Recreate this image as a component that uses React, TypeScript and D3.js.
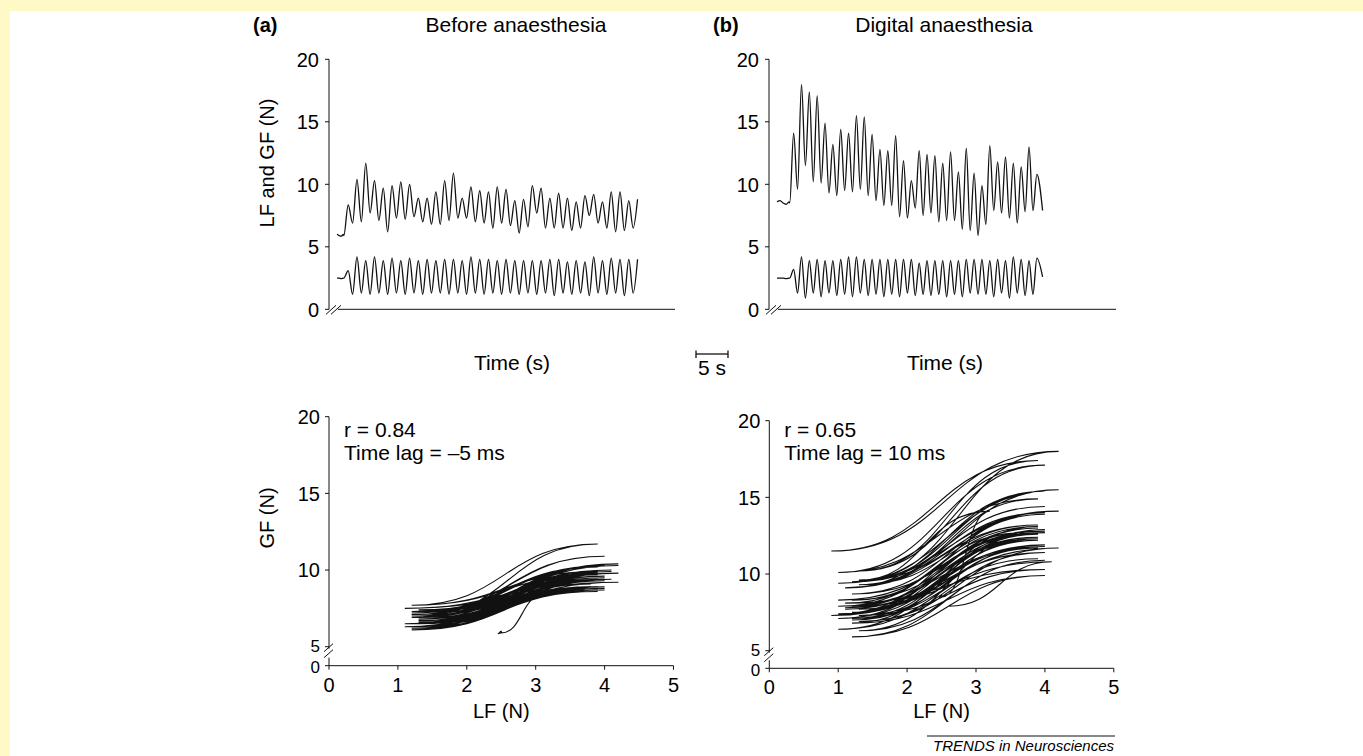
import React from "react";
import * as d3 from "d3";

const FONT = "'Liberation Sans', Arial, Helvetica, sans-serif";

// tick labels
const forceTicks = [0, 5, 10, 15, 20];
const loopYTicks = [10, 15, 20];
const lfTicks = [0, 1, 2, 3, 4, 5];

// (a) before anaesthesia -- values read per cycle (N)
const lfBaseA = [2.5, 2.5, 2.45, 2.5];
const gfBaseA = [6.0, 5.9, 5.85, 6.0];
const lfTroughsA = [2.5, 1.2, 1.3, 1.2, 1.3, 1.2, 1.3, 1.2, 1.3, 1.2, 1.3, 1.3, 1.2, 1.3, 1.2, 1.3, 1.2,
  1.3, 1.2, 1.3, 1.2, 1.3, 1.2, 1.3, 1.1, 1.3, 1.2, 1.3, 1.1, 1.3, 1.2, 1.3, 1.1, 1.3];
const lfPeaksA = [3.1, 4.2, 3.9, 4.2, 3.9, 4.1, 3.9, 4.1, 3.9, 4.0, 3.9, 4.0, 4.0, 3.9, 4.2, 4.0, 4.0,
  3.9, 4.0, 3.9, 3.9, 3.9, 3.9, 4.0, 4.0, 3.8, 3.9, 3.8, 4.2, 3.9, 4.1, 4.0, 4.0, 4.0];
const gfTroughsA = [5.9, 6.9, 7.0, 7.7, 7.1, 6.2, 7.3, 7.2, 7.4, 7.0, 6.8, 6.8, 7.1, 7.3, 7.3, 7.0, 6.9,
  6.5, 6.9, 6.7, 6.1, 6.6, 7.7, 6.5, 6.5, 6.5, 6.3, 6.5, 7.5, 6.9, 6.5, 6.2, 6.3, 6.5];
const gfPeaksA = [8.35, 10.4, 11.7, 10.3, 9.7, 9.9, 10.2, 10.0, 8.9, 8.9, 9.4, 10.3, 10.9, 8.9, 9.8, 9.5,
  9.4, 9.8, 9.6, 8.7, 8.8, 9.9, 9.7, 8.9, 9.3, 8.9, 8.6, 9.1, 9.2, 8.6, 9.4, 9.4, 8.7, 8.8];

// (b) digital anaesthesia
const lfBaseB = [2.5, 2.5, 2.5, 2.45, 2.5];
const gfBaseB = [8.6, 8.7, 8.5, 8.4, 8.6];
const lfTroughsB = [2.5, 1.3, 0.9, 1.3, 1.0, 1.3, 1.1, 1.2, 1.0, 1.3, 1.1, 1.2, 1.0, 1.2, 1.0, 1.3,
  1.1, 1.2, 1.1, 1.2, 1.0, 1.2, 1.0, 1.3, 1.2, 1.2, 1.0, 1.3, 0.9, 1.3, 1.1, 1.2];
const lfPeaksB = [3.2, 4.2, 3.9, 4.0, 3.9, 3.9, 4.0, 4.2, 4.2, 4.0, 4.0, 4.0, 4.0, 4.0, 4.0, 4.0,
  3.7, 3.9, 3.9, 3.9, 3.9, 3.9, 4.0, 4.0, 4.0, 3.9, 4.0, 3.9, 4.2, 4.0, 3.9, 4.1];
const gfTroughsB = [8.5, 9.6, 11.5, 10.2, 10.1, 9.3, 9.1, 9.5, 9.4, 9.6, 9.1, 8.7, 8.3, 8.3, 7.4, 7.3,
  8.1, 7.5, 7.7, 7.0, 7.1, 7.1, 6.4, 6.3, 5.9, 6.8, 7.9, 7.7, 7.3, 6.9, 7.8, 7.9];
const gfPeaksB = [14.1, 18.0, 17.4, 17.1, 14.9, 13.2, 14.4, 14.1, 15.5, 15.4, 14.0, 12.8, 12.7, 13.9,
  11.9, 10.3, 12.7, 12.4, 12.3, 11.7, 12.6, 11.0, 12.9, 10.9, 9.9, 13.1, 11.8, 12.2, 11.7, 11.4, 13.0, 10.8];
const lfEndB = 2.6;
const gfEndB = 7.9;

type Pt = [number, number];

interface Trial {
  lfBase: number[]; gfBase: number[];
  lfTroughs: number[]; lfPeaks: number[];
  gfTroughs: number[]; gfPeaks: number[];
  lfEnd?: number; gfEnd?: number;
  baseDur: number; firstPeak: number; period: number; dur: number;
}

const trialA: Trial = {
  lfBase: lfBaseA, gfBase: gfBaseA, lfTroughs: lfTroughsA, lfPeaks: lfPeaksA,
  gfTroughs: gfTroughsA, gfPeaks: gfPeaksA, baseDur: 1.0, firstPeak: 1.75, period: 1.37, dur: 47,
};
const trialB: Trial = {
  lfBase: lfBaseB, gfBase: gfBaseB, lfTroughs: lfTroughsB, lfPeaks: lfPeaksB,
  gfTroughs: gfTroughsB, gfPeaks: gfPeaksB, lfEnd: lfEndB, gfEnd: gfEndB,
  baseDur: 1.9, firstPeak: 2.6, period: 1.226, dur: 41.5,
};

// time trace: (t, value) for one signal
function trace(t: Trial, base: number[], troughs: number[], peaks: number[], end?: number): Pt[] {
  const pts: Pt[] = base.map((v, i) => [(i / (base.length - 1)) * t.baseDur, v] as Pt);
  peaks.forEach((p, i) => {
    const tp = t.firstPeak + i * t.period;
    pts.push([tp - t.period / 2, troughs[i]]);
    pts.push([tp, p]);
  });
  if (end != null) pts.push([t.dur, end]);
  return pts;
}

// LF/GF pairs for the loop plot
function loops(t: Trial): Pt[] {
  const pts: Pt[] = t.lfBase.map((v, i) => [v, t.gfBase[i]] as Pt);
  t.lfPeaks.forEach((p, i) => {
    pts.push([t.lfTroughs[i], t.gfTroughs[i]]);
    pts.push([p, t.gfPeaks[i]]);
  });
  if (t.lfEnd != null && t.gfEnd != null) pts.push([t.lfEnd, t.gfEnd]);
  return pts;
}

const ink = "#111";

function TracePanel(props: {
  axisX: number; axisEnd: number; traceX0: number; tag: string; tagX: number;
  title: string; titleX: number; labelX: number; trial: Trial; yLabel?: string;
}) {
  const { axisX, axisEnd, traceX0, trial } = props;
  const y = d3.scaleLinear().domain([0, 20]).range([309.3, 59.3]);
  const x = d3.scaleLinear().domain([0, 5]).range([traceX0, traceX0 + 32]); // 5 s = 32 px
  const line = d3.line<Pt>().x(d => x(d[0])).y(d => y(d[1])).curve(d3.curveMonotoneX);
  const lf = trace(trial, trial.lfBase, trial.lfTroughs, trial.lfPeaks, trial.lfEnd);
  const gf = trace(trial, trial.gfBase, trial.gfTroughs, trial.gfPeaks, trial.gfEnd);
  const y0 = y(0);
  return (
    <g>
      <text x={props.tagX} y={32} fontSize={20} fontWeight="bold">{props.tag}</text>
      <text x={props.titleX} y={32} fontSize={21} textAnchor="middle">{props.title}</text>
      <line x1={axisX} x2={axisX} y1={y(20)} y2={y0} stroke={ink} />
      {forceTicks.map(t => (
        <g key={t}>
          <line x1={axisX - 4} x2={axisX} y1={y(t)} y2={y(t)} stroke={ink} />
          <text x={axisX - 10} y={y(t)} dy="0.36em" fontSize={20} textAnchor="end">{t}</text>
        </g>
      ))}
      <line x1={axisX + 9} x2={axisEnd} y1={y0} y2={y0} stroke={ink} />
      <line x1={axisX - 3} y1={y0 + 5} x2={axisX + 7} y2={y0 - 4} stroke={ink} />
      <line x1={axisX + 2} y1={y0 + 5} x2={axisX + 12} y2={y0 - 4} stroke={ink} />
      {props.yLabel && (
        <text transform={`translate(274,163) rotate(-90)`} fontSize={20} textAnchor="middle">{props.yLabel}</text>
      )}
      <text x={props.labelX} y={370} fontSize={21} textAnchor="middle">Time (s)</text>
      <path d={line(gf) ?? ""} fill="none" stroke={ink} strokeWidth={1.3} />
      <path d={line(lf) ?? ""} fill="none" stroke={ink} strokeWidth={1.3} />
    </g>
  );
}

function LoopPanel(props: {
  axisX: number; y20: number; y5: number; y0: number; trial: Trial;
  r: string; lag: string; yLabel?: boolean;
}) {
  const { axisX, y20, y5, y0, trial } = props;
  const x = d3.scaleLinear().domain([0, 5]).range([axisX, axisX + 344.5]);
  const y = d3.scaleLinear().domain([5, 20]).range([y5, y20]);
  // horizontal tangents at each turning point give the flattened loop ends
  const line = d3.line<Pt>().x(d => x(d[0])).y(d => y(d[1])).curve(d3.curveBumpX);
  const pts = loops(trial);
  return (
    <g>
      <line x1={axisX} x2={axisX} y1={y20} y2={y5 + 2} stroke={ink} />
      <line x1={axisX} x2={axisX} y1={y0 - 8} y2={y0} stroke={ink} />
      <line x1={axisX - 5} y1={y5 + 5} x2={axisX + 4} y2={y5 - 3} stroke={ink} />
      <line x1={axisX - 5} y1={y5 + 11} x2={axisX + 4} y2={y5 + 3} stroke={ink} />
      {loopYTicks.map(t => (
        <g key={t}>
          <line x1={axisX - 4} x2={axisX} y1={y(t)} y2={y(t)} stroke={ink} />
          <text x={axisX - 9} y={y(t)} dy="0.36em" fontSize={20} textAnchor="end">{t}</text>
        </g>
      ))}
      {/* 5 and 0 sit close together either side of the axis break */}
      <line x1={axisX - 4} x2={axisX} y1={y(5)} y2={y(5)} stroke={ink} />
      <text x={axisX - 9} y={y(5) - 1} dy="0.36em" fontSize={17} textAnchor="end">5</text>
      <line x1={axisX - 4} x2={axisX} y1={y0} y2={y0} stroke={ink} />
      <text x={axisX - 9} y={y0 + 1.5} dy="0.36em" fontSize={17} textAnchor="end">0</text>
      <line x1={axisX} x2={x(5)} y1={y0} y2={y0} stroke={ink} />
      {lfTicks.map(t => (
        <g key={t}>
          <line x1={x(t)} x2={x(t)} y1={y0} y2={y0 + 4} stroke={ink} />
          <text x={x(t)} y={y0 + 26} fontSize={20} textAnchor="middle">{t}</text>
        </g>
      ))}
      <text x={(x(0) + x(5)) / 2} y={718} fontSize={20} textAnchor="middle">LF (N)</text>
      {props.yLabel && (
        <text transform={`translate(274,518) rotate(-90)`} fontSize={20} textAnchor="middle">GF (N)</text>
      )}
      <text x={axisX + 15} y={437} fontSize={21}>{props.r}</text>
      <text x={axisX + 15} y={460} fontSize={21}>{props.lag}</text>
      <path d={line(pts) ?? ""} fill="none" stroke={ink} strokeWidth={1.1} />
    </g>
  );
}

export default function App() {
  return (
    <div style={{ position: "absolute", left: 0, top: 0 }}>
      <svg width={1363} height={756} style={{ display: "block" }} fontFamily={FONT}>
        <rect width={1363} height={756} fill="#fff9c8" />
        <rect x={10} y={11} width={1353} height={745} fill="#ffffff" />
        <TracePanel axisX={329} axisEnd={675} traceX0={337} tag="(a)" tagX={253}
          title="Before anaesthesia" titleX={516} labelX={512} trial={trialA} yLabel="LF and GF (N)" />
        <TracePanel axisX={769} axisEnd={1116} traceX0={777} tag="(b)" tagX={713}
          title="Digital anaesthesia" titleX={944} labelX={945} trial={trialB} />
        {/* 5 s scale bar */}
        <line x1={696} x2={728} y1={354} y2={354} stroke={ink} strokeWidth={1.3} />
        <line x1={696} x2={696} y1={350.5} y2={358} stroke={ink} strokeWidth={1.3} />
        <line x1={728} x2={728} y1={350.5} y2={358} stroke={ink} strokeWidth={1.3} />
        <text x={712} y={375} fontSize={21} textAnchor="middle">5 s</text>
        <LoopPanel axisX={329} y20={416.7} y5={646.7} y0={665.7} trial={trialA}
          r="r = 0.84" lag="Time lag = –5 ms" yLabel />
        <LoopPanel axisX={769.3} y20={420.7} y5={650.7} y0={668.3} trial={trialB}
          r="r = 0.65" lag="Time lag = 10 ms" />
        <line x1={927} x2={1115} y1={736} y2={736} stroke={ink} strokeWidth={1} />
        <text x={1114} y={751} fontSize={15} fontStyle="italic" textAnchor="end">TRENDS in Neurosciences</text>
      </svg>
    </div>
  );
}
